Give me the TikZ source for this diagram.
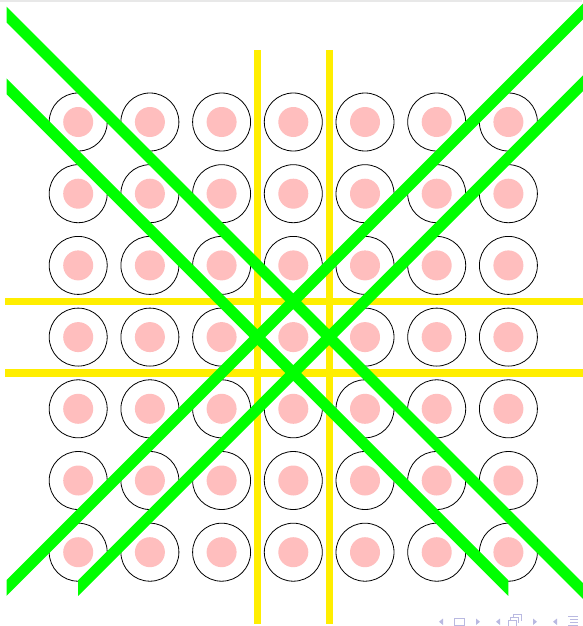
\documentclass[tikz,border=0pt]{standalone}
\definecolor{gridpink}{RGB}{255,190,190}
\definecolor{ylw}{RGB}{255,238,0}
\definecolor{grn}{RGB}{0,255,0}
\definecolor{navc}{RGB}{185,185,225}
\begin{document}
\begin{tikzpicture}[x=1pt,y=-1pt,
  ring/.style={circle, draw=black, line width=0.8pt, fill=white, minimum size=58pt, inner sep=0pt},
  dotc/.style={circle, fill=gridpink, minimum size=30pt, inner sep=0pt},
  ybar/.style={draw=ylw, line width=7.3pt},
  gband/.style={fill=grn},
  nav/.style={fill=navc},
  navline/.style={draw=navc, line width=1pt}]
\useasboundingbox (0,0) rectangle (582,626);
\fill[gray!18] (0,0) rectangle (582,1.6);
\begin{scope}[shift={(6.5,50.3)}, x=71.7pt, y=-71.7pt]
  % circles
  \foreach \i in {1,...,7} {
    \foreach \j in {1,...,7} {
      \node[ring] (c\i\j) at (\i,\j) {};
      \node[dotc] (d\i\j) at (\i,\j) {};
    }
  }
  % yellow lines
  \draw[ybar] (3.5,0) -- (3.5,8);
  \draw[ybar] (4.5,0) -- (4.5,8);
  \draw[ybar] (-0.02,3.5) -- (8.05,3.5);
  \draw[ybar] (-0.02,4.5) -- (8.05,4.5);
  % green bands
  \fill[gband] (0,-0.61) -- (8.05,7.44) -- (8.05,7.66) -- (0,-0.39) -- cycle;
  \fill[gband] (0,0.39) -- (7,7.39) -- (7,7.61) -- (0,0.61) -- cycle;
  \fill[gband] (0,7.39) -- (8.05,-0.66) -- (8.05,-0.44) -- (0,7.61) -- cycle;
  \fill[gband] (1,7.39) -- (8.05,0.34) -- (8.05,0.56) -- (1,7.61) -- cycle;
\end{scope}
% navigation symbols
\fill[nav] (443,618.5) -- (443,625) -- (439,621.75) -- cycle;
\draw[navline] (454,618) rectangle (464,625);
\fill[nav] (476,618.5) -- (476,625) -- (480,621.75) -- cycle;
\fill[nav] (500,618.5) -- (500,625) -- (496,621.75) -- cycle;
\draw[navline] (508,620.5) rectangle (516,626);
\draw[navline] (510.5,620.5) |- (518.5,617.5) -- (518.5,623);
\draw[navline] (513,617.5) |- (521,614.5) -- (521,620.5);
\fill[nav] (533,618.5) -- (533,625) -- (537,621.75) -- cycle;
\fill[nav] (557,618.5) -- (557,625) -- (553,621.75) -- cycle;
\draw[navline] (568,616) -- (578,616);
\draw[navline] (570,619) -- (578,619);
\draw[navline] (570,622) -- (578,622);
\draw[navline] (568,625) -- (578,625);
\end{tikzpicture}
\end{document}
